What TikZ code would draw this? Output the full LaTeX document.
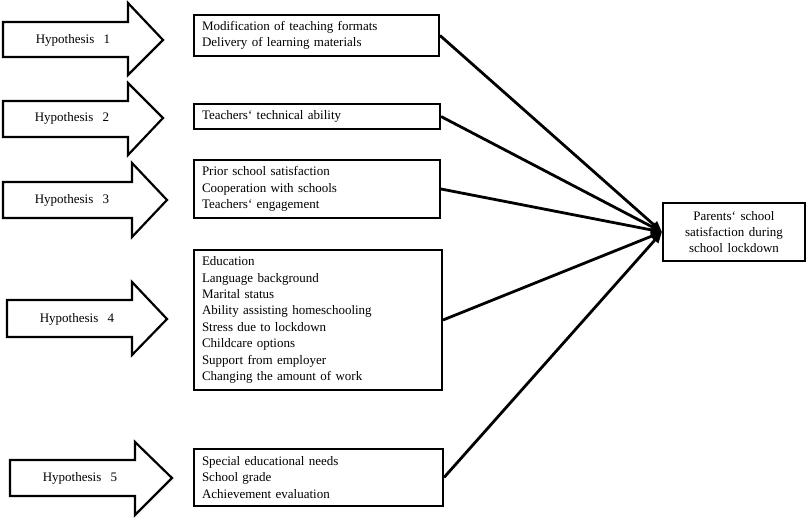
\documentclass[tikz,border=0pt]{standalone}
\usepackage{fontspec}
\setmainfont{Liberation Serif}
\usetikzlibrary{arrows.meta}
\newcommand\MyTxtFont{\fontsize{13}{16.4}\selectfont\spaceskip 0.36em\relax}
\begin{document}
\begin{tikzpicture}[x=1pt,y=-1pt,
  txt/.style={font=\MyTxtFont},
  hyparrow/.style={draw=black,line width=2.2pt,fill=white,line join=miter},
  hyplabel/.style={txt,inner sep=0pt},
  factorbox/.style={draw=black,line width=2pt,txt,align=left,inner xsep=8pt,inner ysep=4pt,anchor=north west},
  targetbox/.style={draw=black,line width=2pt,txt,align=center,inner sep=3pt},
  link/.style={line width=2.8pt,-{Triangle[length=11pt,width=9pt]},shorten >=0pt}]
\useasboundingbox (0,0) rectangle (809,519);
% hypothesis arrows
\draw[hyparrow] (3,22)--(128,22)--(128,3)--(163,40)--(128,75)--(128,57)--(3,57)--cycle;
\draw[hyparrow] (3,101)--(128,101)--(128,83)--(163,118)--(128,155)--(128,137)--(3,137)--cycle;
\draw[hyparrow] (3,182)--(132,182)--(132,163)--(167,200)--(132,237)--(132,218)--(3,218)--cycle;
\draw[hyparrow] (7,300)--(132,300)--(132,282)--(167,319)--(132,355)--(132,337)--(7,337)--cycle;
\draw[hyparrow] (10,460)--(135,460)--(135,442)--(172,478)--(135,515)--(135,496)--(10,496)--cycle;
\node[hyplabel] (h1) at (73,40) {Hypothesis\ \ 1};
\node[hyplabel] (h2) at (72,118) {Hypothesis\ \ 2};
\node[hyplabel] (h3) at (72,200) {Hypothesis\ \ 3};
\node[hyplabel] (h4) at (77,319) {Hypothesis\ \ 4};
\node[hyplabel] (h5) at (80,478) {Hypothesis\ \ 5};
% factor boxes
\node[factorbox,minimum width=245pt,minimum height=41pt,text width=229pt] (b1) at (193,14)
  {Modification of teaching formats\\Delivery of learning materials};
\node[factorbox,minimum width=246pt,minimum height=25pt,text width=230pt] (b2) at (193,103)
  {Teachers‘ technical ability};
\node[factorbox,minimum width=246pt,minimum height=58pt,text width=230pt] (b3) at (193,159)
  {Prior school satisfaction\\Cooperation with schools\\Teachers‘ engagement};
\node[factorbox,minimum width=248pt,minimum height=140pt,text width=232pt] (b4) at (193,249)
  {Education\\Language background\\Marital status\\Ability assisting homeschooling\\Stress due to lockdown\\Childcare options\\Support from employer\\Changing the amount of work};
\node[factorbox,minimum width=249pt,minimum height=57pt,text width=233pt] (b5) at (193,448)
  {Special educational needs\\School grade\\Achievement evaluation};
% target
\node[targetbox,minimum width=142pt,minimum height=58pt] (t) at (734,232)
  {Parents‘ school\\satisfaction during\\school lockdown};
% links
\foreach \b in {b1,b2,b3,b4,b5}
  \draw[link] (\b.east) -- (t.west);
\end{tikzpicture}
\end{document}
